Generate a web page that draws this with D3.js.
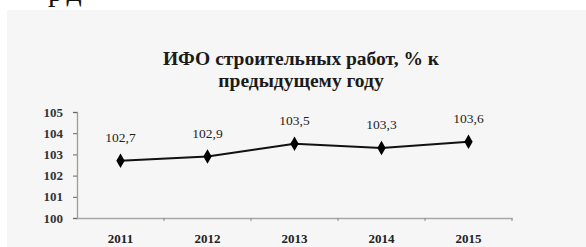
<!DOCTYPE html>
<html>
<head>
<meta charset="utf-8">
<script src="https://cdn.jsdelivr.net/npm/d3@7"></script>
<style>
  html, body { margin: 0; padding: 0; background: #fff; }
  svg { display: block; }
</style>
</head>
<body>
<svg id="chart" width="586" height="247"></svg>
<script>
// chart data
const years = ["2011", "2012", "2013", "2014", "2015"];
const values = [102.7, 102.9, 103.5, 103.3, 103.6];
const valueLabels = ["102,7", "102,9", "103,5", "103,3", "103,6"];
const yTicks = [100, 101, 102, 103, 104, 105];
const titleLines = ["ИФО строительных работ, % к", "предыдущему году"];

const W = 586, H = 247;
const FONT = "Liberation Serif";
const svg = d3.select("#chart").attr("font-family", FONT);

// leftover text from the page above (only its descenders show, like the scan)
svg.append("text")
  .attr("x", 48).attr("y", 1)
  .attr("font-family", FONT)
  .attr("font-size", 30)
  .attr("letter-spacing", 4)
  .attr("fill", "#111")
  .text("рд");

// chart panel
svg.append("rect")
  .attr("x", 7).attr("y", 10)
  .attr("width", W - 7).attr("height", H - 10)
  .attr("fill", "#f6f6f6");

// title
svg.append("g").selectAll("text")
  .data(titleLines)
  .enter().append("text")
  .attr("x", 301)
  .attr("y", (d, i) => 65 + i * 22)
  .attr("text-anchor", "middle")
  .attr("font-family", FONT)
  .attr("font-size", 19.5)
  .attr("font-weight", "bold")
  .attr("fill", "#1a1a1a")
  .text(d => d);

// scales
const x = d3.scaleBand().domain(years).range([77, 512]);
const y = d3.scaleLinear().domain([100, 105]).range([218, 112]);

// y axis
const yAxis = svg.append("g")
  .attr("transform", "translate(77,0)")
  .call(d3.axisLeft(y).tickValues(yTicks).tickFormat(d3.format("d")).tickSize(4).tickPadding(10))
  .attr("font-family", FONT);
yAxis.select(".domain").attr("stroke", "#a39d8c").attr("stroke-width", 1.3);
yAxis.selectAll(".tick line").attr("stroke", "#666");
yAxis.selectAll("text")
  .attr("font-size", 13)
  .attr("font-weight", "bold")
  .attr("fill", "#333");

// x axis
const xAxis = svg.append("g")
  .attr("transform", "translate(0,218)")
  .call(d3.axisBottom(x).tickSize(0).tickPadding(16))
  .attr("font-family", FONT);
xAxis.select(".domain").attr("stroke", "#a8a8a8").attr("stroke-width", 1.3);
xAxis.selectAll("text")
  .attr("font-size", 13)
  .attr("font-weight", "bold")
  .attr("fill", "#222");
// ticks at band edges
const edges = years.slice(1).map(d => x(d)).concat([x.range()[1]]);
xAxis.append("g").selectAll("line")
  .data(edges)
  .enter().append("line")
  .attr("x1", d => d).attr("x2", d => d)
  .attr("y1", 0).attr("y2", 3)
  .attr("stroke", "#888");

// line
const cx = (d, i) => x(years[i]) + x.bandwidth() / 2;
const line = d3.line().x(cx).y(d => y(d));
svg.append("path")
  .datum(values)
  .attr("d", line)
  .attr("fill", "none")
  .attr("stroke", "#111")
  .attr("stroke-width", 2);

// diamond markers
svg.append("g").selectAll("path")
  .data(values)
  .enter().append("path")
  .attr("transform", (d, i) => `translate(${cx(d, i)},${y(d)})`)
  .attr("d", d3.symbol().type(d3.symbolDiamond).size(60))
  .attr("fill", "#000");

// value labels
svg.append("g").selectAll("text")
  .data(values)
  .enter().append("text")
  .attr("x", cx)
  .attr("y", d => y(d) - 19)
  .attr("text-anchor", "middle")
  .attr("font-family", FONT)
  .attr("font-size", 13.5)
  .attr("fill", "#222")
  .text((d, i) => valueLabels[i]);
</script>
</body>
</html>
